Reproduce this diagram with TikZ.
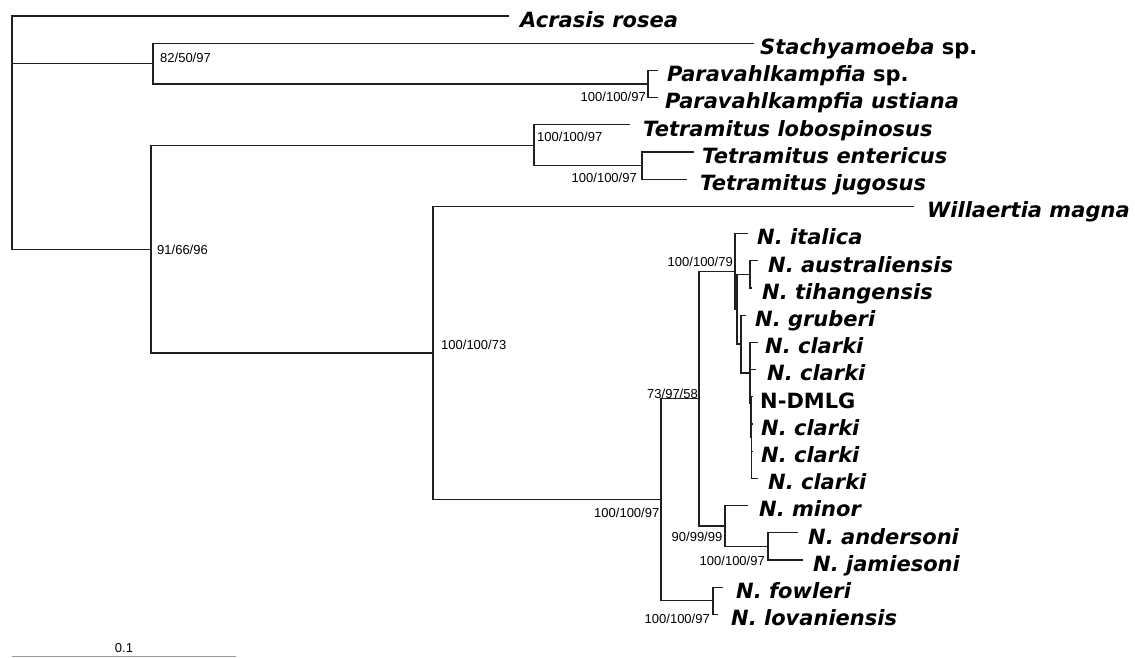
\documentclass[tikz,border=0pt]{standalone}
\usepackage{fontspec}
\setmainfont{Liberation Sans}
\newfontfamily\taxfont{DejaVu Sans}
\tikzset{
  br/.style={line width=1.25pt, draw=black!88, line cap=rect},
  tax/.style={font=\taxfont\bfseries\itshape\fontsize{21}{24}\selectfont, inner sep=0pt, anchor=base west},
  taxup/.style={font=\taxfont\bfseries\fontsize{21}{24}\selectfont, inner sep=0pt, anchor=base west},
  bsl/.style={font=\fontsize{13}{15}\selectfont, inner sep=0pt, anchor=base west},
  bsr/.style={font=\fontsize{13}{15}\selectfont, inner sep=0pt, anchor=base east},
  scalebar/.style={line width=1pt, draw=black!40},
}
\begin{document}
\begin{tikzpicture}[x=1pt,y=-1pt]
\useasboundingbox (0,0) rectangle (1135,657);
% internal nodes
\coordinate (root) at (12,132);
\coordinate (n82) at (153,63.6);
\coordinate (nP) at (648,84);
\coordinate (n91) at (151,249.15);
\coordinate (nT) at (534,145.2);
\coordinate (nTi) at (642,165.6);
\coordinate (n73) at (433,353.1);
\coordinate (nN) at (661,499.75);
\coordinate (n58) at (699,398.7);
\coordinate (nA) at (735,271.4);
\coordinate (nB) at (737,309.25);
\coordinate (nC) at (750,274.4);
\coordinate (nD) at (741,344.1);
\coordinate (nE) at (750,373);
\coordinate (nF) at (750.5,403.6);
\coordinate (nG) at (751.2,437.6);
\coordinate (n90) at (725,526);
\coordinate (nAJ) at (768,546.4);
\coordinate (nFL) at (713,600.8);
% tip ends
\coordinate (t1) at (508,16);
\coordinate (t2) at (753,43.2);
\coordinate (t3) at (657,70.4);
\coordinate (t4) at (657,97.6);
\coordinate (t5) at (629,124.8);
\coordinate (t6) at (693,152);
\coordinate (t7) at (686,179.2);
\coordinate (t8) at (913,206.4);
\coordinate (t9) at (747,233.6);
\coordinate (t10) at (757,260.8);
\coordinate (t11) at (751.5,288);
\coordinate (t12) at (745,315.2);
\coordinate (t13) at (757,342.4);
\coordinate (t14) at (755,369.6);
\coordinate (t15) at (752.5,396.8);
\coordinate (t16) at (752.5,424);
\coordinate (t17) at (752.5,451.2);
\coordinate (t18) at (757,478.4);
\coordinate (t19) at (747,505.6);
\coordinate (t20) at (797,532.8);
\coordinate (t21) at (802,560);
\coordinate (t22) at (722,587.2);
\coordinate (t23) at (717,614.4);
% branches
\draw[br] (root) |- (t1);
\draw[br] (root) |- (n82);
\draw[br] (root) |- (n91);
\draw[br] (n82) |- (t2);
\draw[br] (n82) |- (nP);
\draw[br] (nP) |- (t3);
\draw[br] (nP) |- (t4);
\draw[br] (n91) |- (nT);
\draw[br] (n91) |- (n73);
\draw[br] (nT) |- (t5);
\draw[br] (nT) |- (nTi);
\draw[br] (nTi) |- (t6);
\draw[br] (nTi) |- (t7);
\draw[br] (n73) |- (t8);
\draw[br] (n73) |- (nN);
\draw[br] (nN) |- (n58);
\draw[br] (nN) |- (nFL);
\draw[br] (n58) |- (nA);
\draw[br] (n58) |- (n90);
\draw[br] (nA) |- (t9);
\draw[br] (nA) |- (nB);
\draw[br] (nB) |- (nC);
\draw[br] (nB) |- (nD);
\draw[br] (nC) |- (t10);
\draw[br] (nC) |- (t11);
\draw[br] (nD) |- (t12);
\draw[br] (nD) |- (nE);
\draw[br] (nE) |- (t13);
\draw[br] (nE) |- (nF);
\draw[br] (nF) |- (t14);
\draw[br] (nF) |- (nG);
\draw[br] (nG) |- (t15);
\draw[br] (nG) |- (t16);
\draw[br] (nG) |- (t17);
\draw[br] (nG) |- (t18);
\draw[br] (n90) |- (t19);
\draw[br] (n90) |- (nAJ);
\draw[br] (nAJ) |- (t20);
\draw[br] (nAJ) |- (t21);
\draw[br] (nFL) |- (t22);
\draw[br] (nFL) |- (t23);
% taxon labels
\node[tax] (L1) at (520,27.3) {Acrasis rosea};
\node[tax] (L2) at (760,54.5) {Stachyamoeba \textup{sp.}};
\node[tax] (L3) at (667,81.7) {Paravahlkampfia \textup{sp.}};
\node[tax] (L4) at (665,108.9) {Paravahlkampfia ustiana};
\node[tax] (L5) at (643,136.1) {Tetramitus lobospinosus};
\node[tax] (L6) at (702,163.3) {Tetramitus entericus};
\node[tax] (L7) at (700,190.5) {Tetramitus jugosus};
\node[tax] (L8) at (927,217.7) {Willaertia magna};
\node[tax] (L9) at (757,244.9) {N. italica};
\node[tax] (L10) at (768,272.1) {N. australiensis};
\node[tax] (L11) at (762,299.3) {N. tihangensis};
\node[tax] (L12) at (755,326.5) {N. gruberi};
\node[tax] (L13) at (765,353.7) {N. clarki};
\node[tax] (L14) at (767,380.9) {N. clarki};
\node[taxup] (L15) at (760,408.1) {N-DMLG};
\node[tax] (L16) at (761,435.3) {N. clarki};
\node[tax] (L17) at (761,462.5) {N. clarki};
\node[tax] (L18) at (768,489.7) {N. clarki};
\node[tax] (L19) at (759,516.9) {N. minor};
\node[tax] (L20) at (808,544.1) {N. andersoni};
\node[tax] (L21) at (813,571.3) {N. jamiesoni};
\node[tax] (L22) at (736,598.5) {N. fowleri};
\node[tax] (L23) at (731,625.7) {N. lovaniensis};
% support values
\node[bsl] (s82) at (160,62.5) {82/50/97};
\node[bsr] (sP) at (646,101.7) {100/100/97};
\node[bsl] (sT) at (537,141.7) {100/100/97};
\node[bsr] (sTi) at (637,182.5) {100/100/97};
\node[bsl] (s91) at (157,254) {91/66/96};
\node[bsl] (s73) at (441,349.5) {100/100/73};
\node[bsr] (sN) at (659.5,517.5) {100/100/97};
\node[bsr] (s58) at (698,398) {73/97/58};
\node[bsr] (s79) at (733,266) {100/100/79};
\node[bsr] (s90) at (722.5,541.7) {90/99/99};
\node[bsr] (sAJ) at (765,565) {100/100/97};
\node[bsr] (sFL) at (710,623.3) {100/100/97};
% scale bar
\coordinate (sb1) at (12,656);
\coordinate (sb2) at (236,656);
\draw[scalebar] (sb1) -- (sb2);
\node[font=\fontsize{13}{15}\selectfont, inner sep=0pt, anchor=base] (sbl) at (124,652.7) {0.1};
\end{tikzpicture}
\end{document}
